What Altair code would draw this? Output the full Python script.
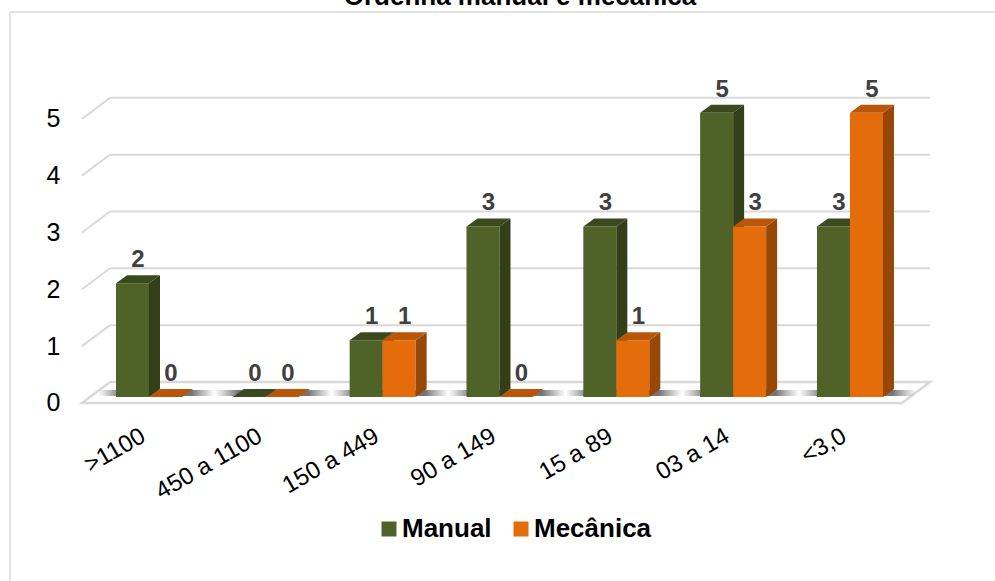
import json
import altair as alt
import pandas as pd

# ---------------- data ----------------
categorias = [">1100", "450 a 1100", "150 a 449", "90 a 149", "15 a 89", "03 a 14", "<3,0"]
manual = [2, 0, 1, 3, 3, 5, 3]
mecanica = [0, 0, 1, 0, 1, 3, 5]
series = ["Manual", "Mecânica"]
y_ticks = [0, 1, 2, 3, 4, 5]
titulo = "Ordenha manual e mecânica"

# ---------------- geometry / style ----------------
W, H = 848, 358
PAD_L, PAD_T = 82, 56
CANVAS_W, CANVAS_H = 995, 581
XMIN, XMAX = -0.5735, 6.685
YMIN, YMAX = -0.3, 6.0
PX_X = W / (XMAX - XMIN)
PX_Y = H / (YMAX - YMIN)
BAR_W = 33 / PX_X
DX = 11 / PX_X
DY = 8 / PX_Y
BACK_DX = 28 / PX_X
FRONT_OFF = 6      # px: front edge of the floor / labels below bar base
BACK_OFF = -15     # px: back wall above bar base
FONT = "Liberation Sans"

FRONT = {"Manual": "#4F6228", "Mecânica": "#E46C0A"}
TOP = {"Manual": "#3B4A1E", "Mecânica": "#B8560A"}
SIDE = {"Manual": "#323F18", "Mecânica": "#974806"}
GRID = "#D9D9D9"

valores = {"Manual": manual, "Mecânica": mecanica}

front_rows, side_rows, top_rows, label_rows, shadow_rows = [], [], [], [], []
for i, cat in enumerate(categorias):
    shadow_rows.append(dict(cat=cat, xa=i - BAR_W - 18 / PX_X,
                            xb=i + BAR_W + DX + 22 / PX_X,
                            ya=1 / PX_Y, yb=7 / PX_Y))
    for s in series:
        v = valores[s][i]
        xl = i - BAR_W if s == "Manual" else i
        xr = xl + BAR_W
        bid = f"{s}-{i}"
        front_rows.append(dict(cat=cat, serie=s, v=v, xl=xl, xr=xr, base=0))
        side_rows += [
            dict(serie=s, bar=bid, x=xr, yt=v, yb=0),
            dict(serie=s, bar=bid, x=xr + DX, yt=v + DY, yb=DY),
        ]
        top_rows += [
            dict(serie=s, bar=bid, y=v, xa=xl, xb=xr),
            dict(serie=s, bar=bid, y=v + DY, xa=xl + DX, xb=xr + DX),
        ]
        label_rows.append(dict(serie=s, v=v, xc=(xl + xr) / 2 + DX / 2))

front_df = pd.DataFrame(front_rows)
side_df = pd.DataFrame(side_rows)
top_df = pd.DataFrame(top_rows)
label_df = pd.DataFrame(label_rows)
shadow_df = pd.DataFrame(shadow_rows)

xs = alt.Scale(domain=[XMIN, XMAX], nice=False, zero=False)
ys = alt.Scale(domain=[YMIN, YMAX], nice=False, zero=False)

x_axis = alt.Axis(
    values=list(range(len(categorias))),
    labelExpr=json.dumps(categorias) + "[datum.value]",
    labelAngle=-30, labelAlign="right", labelBaseline="middle",
    labelFontSize=24, labelFont=FONT, labelColor="#000000",
    labelPadding=20, labelOffset=-6, labelOverlap=False, labelBound=False,
    labelFlush=False,
    ticks=False, domain=False, grid=False, title=None,
)
y_axis = alt.Axis(
    values=y_ticks, labelFontSize=25, labelFont=FONT, labelColor="#000000",
    labelPadding=22, labelOffset=FRONT_OFF, labelOverlap=False,
    ticks=False, domain=False, grid=False, title=None,
)


def X(field, **kw):
    return alt.X(field, scale=xs, axis=x_axis, **kw)


def Y(field, **kw):
    return alt.Y(field, scale=ys, axis=y_axis, **kw)


# ---------------- decoration: frame & title ----------------
one = alt.Data(values=[{"t": titulo}])
frame_top = alt.Chart(one).mark_rule(color=GRID, strokeWidth=1.5).encode(
    x=alt.value(10 - PAD_L), x2=alt.value(CANVAS_W + 10 - PAD_L),
    y=alt.value(12 - PAD_T),
)
frame_left = alt.Chart(one).mark_rule(color=GRID, strokeWidth=1.5).encode(
    x=alt.value(10 - PAD_L),
    y=alt.value(12 - PAD_T), y2=alt.value(CANVAS_H + 10 - PAD_T),
)
title = alt.Chart(one).mark_text(
    font=FONT, fontSize=26, fontWeight="bold", color="#000000",
    baseline="alphabetic", align="center",
).encode(x=alt.value(520 - PAD_L), y=alt.value(5 - PAD_T), text="t:N")

# ---------------- floor & gridlines ----------------
floor_df = pd.DataFrame([
    dict(y=-FRONT_OFF / PX_Y, xa=XMIN, xb=XMAX - BACK_DX),
    dict(y=-BACK_OFF / PX_Y, xa=XMIN + BACK_DX, xb=XMAX),
])
floor = alt.Chart(floor_df).mark_area(
    orient="horizontal", fill="#FFFFFF", stroke=GRID, strokeWidth=2.5
).encode(y=Y("y:Q"), x=X("xa:Q"), x2="xb:Q")

grid_df = pd.DataFrame({"k": y_ticks[1:]})
back_lines = alt.Chart(grid_df).mark_rule(
    color=GRID, strokeWidth=2, yOffset=BACK_OFF
).encode(
    y=Y("k:Q"),
    x=alt.X(datum=XMIN + BACK_DX, scale=xs, axis=x_axis),
    x2=alt.datum(XMAX),
)
diag_lines = alt.Chart(grid_df).mark_rule(
    color=GRID, strokeWidth=2, yOffset=FRONT_OFF, y2Offset=BACK_OFF
).encode(
    y=Y("k:Q"), y2="k:Q",
    x=alt.X(datum=XMIN, scale=xs, axis=x_axis),
    x2=alt.datum(XMIN + BACK_DX),
)

shadow_fill = alt.Gradient(
    gradient="linear", x1=0, x2=1, y1=0, y2=0,
    stops=[
        alt.GradientStop(offset=0, color="rgba(90,90,90,0)"),
        alt.GradientStop(offset=0.2, color="rgba(70,70,70,0.75)"),
        alt.GradientStop(offset=0.8, color="rgba(70,70,70,0.75)"),
        alt.GradientStop(offset=1, color="rgba(90,90,90,0)"),
    ],
)
shadows = alt.Chart(shadow_df).mark_rect(fill=shadow_fill).encode(
    x=X("xa:Q"), x2="xb:Q", y=Y("ya:Q"), y2="yb:Q",
)

# ---------------- 3D bars ----------------
color_scale = alt.Scale(domain=series, range=[FRONT[s] for s in series])


def bar_layers(s):
    fr = alt.Chart(front_df).transform_filter(alt.datum.serie == s).mark_rect().encode(
        x=X("xl:Q"), x2="xr:Q",
        y=Y("v:Q"), y2="base:Q",
        color=alt.Color("serie:N", scale=color_scale,
                        legend=alt.Legend(title=None)),
    )
    sd = alt.Chart(side_df).transform_filter(alt.datum.serie == s).mark_area(
        color=SIDE[s], orient="vertical"
    ).encode(
        x=X("x:Q"), y=Y("yt:Q"), y2="yb:Q", detail="bar:N",
    )
    tp = alt.Chart(top_df).transform_filter(alt.datum.serie == s).mark_area(
        color=TOP[s], orient="horizontal"
    ).encode(
        y=Y("y:Q"), x=X("xa:Q"), x2="xb:Q", detail="bar:N",
    )
    return [fr, sd, tp]


labels = alt.Chart(label_df).mark_text(
    font=FONT, fontSize=24, fontWeight="bold", color="#404040",
    baseline="alphabetic", align="center", dy=-16,
).encode(x=X("xc:Q"), y=Y("v:Q"), text="v:Q")

chart = alt.layer(
    frame_top, frame_left, title, floor, back_lines, diag_lines, shadows,
    *bar_layers("Manual"), *bar_layers("Mecânica"),
    labels,
).properties(
    width=W, height=H,
    padding={"left": PAD_L, "top": PAD_T, "right": CANVAS_W - PAD_L - W,
             "bottom": CANVAS_H - PAD_T - H},
    autosize=alt.AutoSizeParams(type="none"),
    background="#FFFFFF",
).configure_view(stroke=None).configure_legend(
    orient="none", legendX=376 - PAD_L, legendY=516 - PAD_T,
    direction="horizontal", symbolType="square", symbolSize=225,
    symbolStrokeWidth=0, symbolOpacity=1,
    labelFontSize=26, labelFontWeight="bold", labelFont=FONT,
    labelColor="#000000", labelOffset=0, columnPadding=16,
).configure_text(font=FONT)

chart.save("out.html", embed_options={"renderer": "svg", "actions": False})
